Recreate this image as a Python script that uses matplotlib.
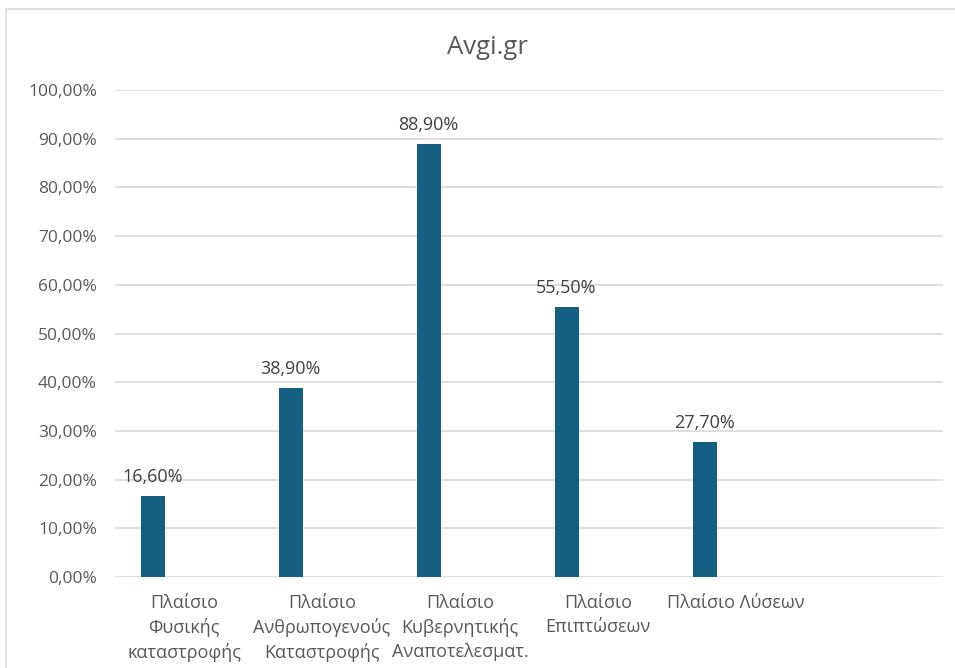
import matplotlib.pyplot as plt
from matplotlib.patches import Rectangle
from matplotlib.ticker import FuncFormatter

# chart data
categories = ["Πλαίσιο\nΦυσικής\nκαταστροφής",
              "Πλαίσιο\nΑνθρωπογενούς\nΚαταστροφής",
              "Πλαίσιο\nΚυβερνητικής\nΑναποτελεσματ.",
              "Πλαίσιο\nΕπιπτώσεων",
              "Πλαίσιο Λύσεων",
              ""]
values = [16.6, 38.9, 88.9, 55.5, 27.7]
value_labels = ["16,60%", "38,90%", "88,90%", "55,50%", "27,70%"]
y_ticks = [0, 10, 20, 30, 40, 50, 60, 70, 80, 90, 100]

plt.rcParams['font.family'] = ['Open Sans', 'DejaVu Sans']
text_color = "#595959"
bar_color = "#156082"

fig = plt.figure(figsize=(9.55, 6.68), dpi=100)
ax = fig.add_axes([115 / 955, 1 - 577 / 668, 828 / 955, 487 / 668])

# light frame around the chart area
fig.patches.append(Rectangle((6 / 955, -0.1), 1.2, 1 - 9 / 668 + 0.1,
                             transform=fig.transFigure, fill=False,
                             edgecolor="#d9d9d9", linewidth=1.2))

# bars sit left of the slot centre (empty second series in the source)
xs = [i - 0.228 for i in range(len(values))]
ax.bar(xs, values, width=0.174, color=bar_color, zorder=3)

for x, v, lab in zip(xs, values, value_labels):
    ax.annotate(lab, (x, v), xytext=(0, 7), textcoords="offset points",
                ha="center", va="bottom", fontsize=13, color="#404040")

ax.set_xlim(-0.5, len(categories) - 0.5)
ax.set_ylim(0, 100)
ax.set_yticks(y_ticks)
ax.yaxis.set_major_formatter(FuncFormatter(lambda v, p: f"{v:.2f}%".replace(".", ",")))
ax.set_xticks(range(len(categories)))
ax.set_xticklabels(categories, fontsize=13, color=text_color, linespacing=1.42)
ax.tick_params(axis="y", length=0, pad=13, labelsize=12.5, labelcolor=text_color)
ax.tick_params(axis="x", length=0, pad=12)

ax.grid(axis="y", color="#d9d9d9", linewidth=1.2, zorder=0)
for s in ax.spines.values():
    s.set_visible(False)

fig.text(487 / 955, 1 - 47 / 668, "Avgi.gr", ha="center", va="center",
         fontsize=18.5, color=text_color)

fig.savefig("out.png", dpi=100)
